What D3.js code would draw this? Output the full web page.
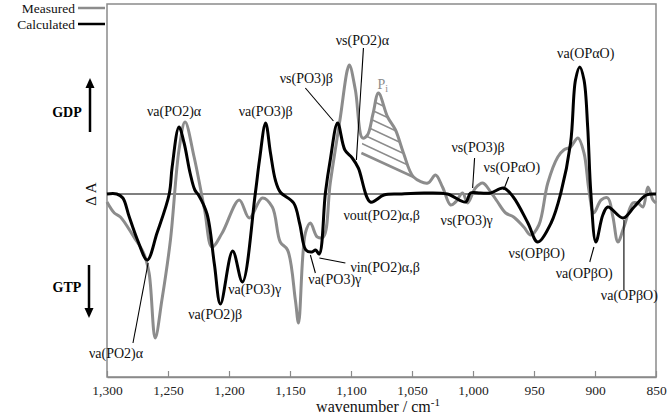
<!DOCTYPE html>
<html>
<head>
<meta charset="utf-8">
<script src="https://cdn.jsdelivr.net/npm/d3@7/dist/d3.min.js"></script>
<style>
  body { margin: 0; background: #fff; }
  svg text { font-family: "Liberation Serif", "DejaVu Serif", serif !important; }
</style>
</head>
<body>
<svg id="chart" width="667" height="415" font-family="Liberation Serif, DejaVu Serif, serif"></svg>
<script>
// wavenumber (cm-1), delta A (arb. units)
const measured = [
  [1300, -0.08], [1294, -0.19], [1289, -0.23], [1278, -0.43], [1270, -0.59], [1265.5, -0.79],
  [1260.5, -1.44], [1255, -1.06], [1248, -0.46], [1241, 0.44], [1236, 0.72], [1228.6, 0.37],
  [1220, -0.16], [1214, -0.53], [1205.6, -0.39], [1191.6, -0.06], [1183.4, -0.24], [1172.7, -0.04],
  [1164.5, -0.13], [1158, -0.48], [1152, -0.56], [1145.6, -1.06], [1143, -1.29], [1137.4, -0.39],
  [1133.3, -0.29], [1127.6, -0.43], [1122.7, -0.43], [1117, 0.11], [1108.7, 0.77], [1103, 1.24],
  [1101.3, 1.29], [1096.4, 1.04], [1090.6, 0.56], [1086.5, 0.59], [1082, 0.80], [1077.5, 1.01],
  [1070, 0.77], [1063.5, 0.64], [1057, 0.41], [1048.7, 0.17], [1037, 0.11], [1030.7, 0.19],
  [1025, 0.07], [1018.4, -0.11], [1014.3, -0.08], [1008.5, 0.01], [1004.4, -0.09], [998, 0.06],
  [992, 0.11], [985.5, 0.02], [979.8, -0.08], [973.2, -0.19], [966.7, -0.23], [958.4, -0.33],
  [952.7, -0.41], [946, -0.31], [938.7, 0.11], [930.5, 0.37], [925.6, 0.44], [920, 0.47],
  [914, 0.56], [909, 0.41], [905, 0.04], [901, -0.19], [895, -0.06], [889.5, -0.04],
  [885.3, -0.23], [881.2, -0.48], [876.3, -0.33], [869, -0.09], [864.8, -0.09], [860.7, -0.13],
  [856.6, 0.07], [852.5, -0.06], [850, -0.09]
];

const calculated = [
  [1300, 0], [1292, 0], [1287, -0.04], [1282, -0.22], [1275, -0.46], [1267, -0.66], [1259, -0.39],
  [1249, 0], [1246.6, 0.27], [1241, 0.67], [1236.8, 0.51], [1231.9, 0.21], [1228, 0.04], [1225, -0.01],
  [1218, -0.2], [1212, -0.7], [1207, -1.10], [1197, -0.57], [1189, -0.88], [1178.5, 0],
  [1175, 0.34], [1170, 0.71], [1166, 0.41], [1162, 0.14], [1158, 0.02], [1147, -0.09],
  [1142, -0.3], [1137, -0.56], [1132, -0.58], [1129, -0.56], [1126, -0.60], [1121, 0.01],
  [1117, 0.34], [1111, 0.71], [1105, 0.44], [1099, 0.36], [1094, 0.26], [1084, -0.08],
  [1073, -0.01], [1060, 0], [1040, 0.01], [1021, 0], [1006, -0.08], [1002, 0.01], [994, 0.01],
  [985.5, 0.01], [975, 0.06], [967, -0.03], [955, -0.29], [947, -0.48], [936, -0.29],
  [928, 0.01], [920, 0.51], [916, 1.14], [912.5, 1.27], [909, 1.14], [906, 0.67], [903.4, 0.01],
  [899.3, -0.48], [893.6, -0.21], [889.5, -0.13], [877, -0.24], [868, -0.13], [858, -0.01], [850, 0]
];

// baseline under the hatched Pi band
const piBase = [[1091.5, 0.41], [1048.7, 0.17]];

const wavenumberTicks = [1300, 1250, 1200, 1150, 1100, 1050, 1000, 950, 900, 850];

// [text, wavenumber, dA, anchor]
const bandLabels = [
  ['νa(PO2)α', 1245, 0.78, 'middle'],
  ['νa(PO3)β', 1170, 0.78, 'middle'],
  ['νs(PO3)β', 1136.6, 1.11, 'middle'],
  ['νs(PO2)α', 1090.6, 1.49, 'middle'],
  ['νout(PO2)α,β', 1106.2, -0.26, 'start'],
  ['νin(PO2)α,β', 1100.5, -0.78, 'start'],
  ['νa(PO3)γ', 1135, -0.90, 'start'],
  ['νa(PO3)γ', 1200.7, -1.00, 'start'],
  ['νa(PO2)β', 1211.3, -1.25, 'middle'],
  ['νa(PO2)α', 1292.6, -1.64, 'middle'],
  ['νs(PO3)β', 1017.6, 0.42, 'start'],
  ['νs(OPαO)', 991.3, 0.22, 'start'],
  ['νs(PO3)γ', 1026.6, -0.31, 'start'],
  ['νs(OPβO)', 970.8, -0.64, 'start'],
  ['νa(OPβO)', 932.2, -0.84, 'start'],
  ['νa(OPβO)', 895.2, -1.06, 'start'],
  ['νa(OPαO)', 907.6, 1.36, 'middle']
];

// leader lines [wn1, dA1, wn2, dA2]
const leaders = [
  [1137.4, 1.06, 1114.4, 0.73],
  [1089.8, 1.46, 1095.6, 0.34],
  [1125.9, -0.64, 1104.6, -0.69],
  [1133.3, -0.61, 1129.2, -0.79],
  [1266.3, -0.69, 1278.7, -1.49],
  [998.7, 0.36, 1000.3, 0.06],
  [970.8, 0.17, 974.9, 0.04],
  [900.9, -0.53, 904.3, -0.68],
  [876.3, -0.26, 876.3, -0.96]
];

const chart = {
  box: {left: 107, right: 656, top: 4, bottom: 377},
  grey: '#8c8c8c',
  frame: '#8a8a8a',
  font: '"Liberation Serif", "DejaVu Serif", serif'
};

const svg = d3.select('#chart');
const box = chart.box;

const x = d3.scaleLinear().domain([1300, 850]).range([box.left, box.right]);
const y = d3.scaleLinear().domain([-1.83, 1.90]).range([box.bottom, box.top]);

// frame
svg.append('rect')
  .attr('x', box.left).attr('y', box.top)
  .attr('width', box.right - box.left).attr('height', box.bottom - box.top)
  .attr('fill', 'none').attr('stroke', chart.frame).attr('stroke-width', 1.5);

// zero line
svg.append('line')
  .attr('x1', box.left).attr('x2', box.right)
  .attr('y1', y(0)).attr('y2', y(0))
  .attr('stroke', '#000').attr('stroke-width', 1.2);

// x axis, ticks pointing inward
const xAxis = svg.append('g')
  .attr('transform', `translate(0,${box.bottom})`)
  .call(d3.axisBottom(x).tickValues(wavenumberTicks).tickFormat(d3.format(',')).tickSizeInner(-6).tickSizeOuter(0).tickPadding(8));
xAxis.attr('font-family', chart.font);
xAxis.select('.domain').attr('stroke', chart.frame).attr('stroke-width', 1.5);
xAxis.selectAll('.tick line').attr('stroke', chart.frame).attr('stroke-width', 1.2);
xAxis.selectAll('.tick text')
  .attr('font-size', 13.5).attr('fill', '#222');

const axisTitle = svg.append('text')
  .attr('x', 378).attr('y', 412).attr('text-anchor', 'middle')
  .attr('font-size', 16).attr('fill', '#111');
axisTitle.append('tspan').text('wavenumber / cm');
axisTitle.append('tspan').attr('dy', -6).attr('font-size', 11).text('-1');

// hatched Pi band
const piPoly = [piBase[0]].concat(
  measured.filter(d => d[0] <= 1090.6 && d[0] >= 1048.7),
  [piBase[1]]
);
svg.append('clipPath').attr('id', 'pi-clip')
  .append('polygon')
  .attr('points', piPoly.map(d => [x(d[0]), y(d[1])].join(',')).join(' '));

const hatch = svg.append('g').attr('clip-path', 'url(#pi-clip)');
d3.range(1, 9).forEach(k => {
  hatch.append('line')
    .attr('x1', x(piBase[0][0]) - 10).attr('y1', y(piBase[0][1]) - k * 9.5 - 5)
    .attr('x2', x(piBase[1][0]) + 10).attr('y2', y(piBase[1][1]) - k * 9.5 + 5)
    .attr('stroke', chart.grey).attr('stroke-width', 1.6);
});
svg.append('line')
  .attr('x1', x(piBase[0][0])).attr('y1', y(piBase[0][1]))
  .attr('x2', x(piBase[1][0])).attr('y2', y(piBase[1][1]))
  .attr('stroke', chart.grey).attr('stroke-width', 2.5);

// spectra
const line = d3.line()
  .x(d => x(d[0]))
  .y(d => y(d[1]))
  .curve(d3.curveCatmullRom.alpha(0.5));

svg.append('path').datum(measured)
  .attr('d', line).attr('fill', 'none')
  .attr('stroke', chart.grey).attr('stroke-width', 3).attr('stroke-linejoin', 'round');

svg.append('path').datum(calculated)
  .attr('d', line).attr('fill', 'none')
  .attr('stroke', '#000').attr('stroke-width', 3).attr('stroke-linejoin', 'round');

// leaders
svg.append('g').selectAll('line').data(leaders).join('line')
  .attr('x1', d => x(d[0])).attr('y1', d => y(d[1]))
  .attr('x2', d => x(d[2])).attr('y2', d => y(d[3]))
  .attr('stroke', '#000').attr('stroke-width', 1.1);

// band labels
svg.append('g').selectAll('text').data(bandLabels).join('text')
  .attr('x', d => x(d[1])).attr('y', d => y(d[2]))
  .attr('text-anchor', d => d[3])
  .attr('font-size', 14).attr('fill', '#111')
  .text(d => d[0]);

const piLabel = svg.append('text')
  .attr('x', x(1078.3)).attr('y', y(1.05))
  .attr('font-size', 14).attr('fill', chart.grey);
piLabel.append('tspan').text('P');
piLabel.append('tspan').attr('dy', 3).attr('font-size', 10).text('i');

// y label
svg.append('text')
  .attr('transform', `translate(96,${y(0)}) rotate(-90)`)
  .attr('text-anchor', 'middle')
  .attr('font-size', 15).attr('fill', '#111')
  .text('Δ A');

// GDP / GTP arrows
function arrow(x0, yFrom, yTo) {
  const dir = yTo < yFrom ? -1 : 1;
  svg.append('line')
    .attr('x1', x0).attr('x2', x0).attr('y1', yFrom).attr('y2', yTo - dir * 8)
    .attr('stroke', '#000').attr('stroke-width', 2.5);
  svg.append('path')
    .attr('d', `M${x0 - 4.5},${yTo - dir * 10} L${x0},${yTo} L${x0 + 4.5},${yTo - dir * 10} Z`)
    .attr('fill', '#000');
}
arrow(90, 132, 78);
arrow(89, 265, 318);

svg.append('text').attr('x', 67).attr('y', 117).attr('text-anchor', 'middle')
  .attr('font-size', 14).attr('font-weight', 'bold').text('GDP');
svg.append('text').attr('x', 67).attr('y', 292).attr('text-anchor', 'middle')
  .attr('font-size', 14).attr('font-weight', 'bold').text('GTP');

// legend
const legend = [['Measured', chart.grey, 13], ['Calculated', '#000', 29]];
legend.forEach(([name, color, yy]) => {
  svg.append('text').attr('x', 75).attr('y', yy).attr('text-anchor', 'end')
    .attr('font-size', 13.5).attr('fill', '#111').text(name);
  svg.append('line')
    .attr('x1', 78).attr('x2', 105).attr('y1', yy - 5).attr('y2', yy - 5)
    .attr('stroke', color).attr('stroke-width', 2.5);
});
</script>
</body>
</html>
